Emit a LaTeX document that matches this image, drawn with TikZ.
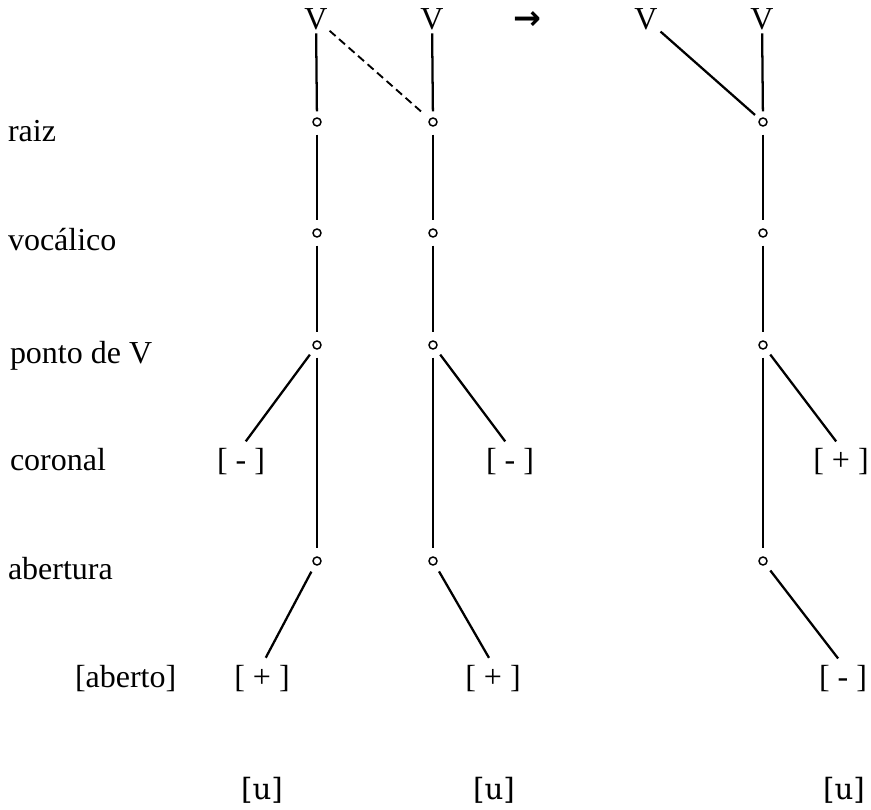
\documentclass[tikz,border=0pt]{standalone}
\usepackage{fontspec}
\setmainfont{Liberation Serif}
\newfontfamily\ipafont{DejaVu Serif}
\newfontfamily\arrowfont{DejaVu Sans}
\begin{document}
\begin{tikzpicture}[x=0.75pt,y=-0.75pt,
  every node/.style={inner sep=0pt, outer sep=0pt, font=\fontsize{24}{28}\selectfont},
  lbl/.style={anchor=base west},
  seg/.style={anchor=base},
  ipa/.style={anchor=base, font=\fontsize{22}{26}\selectfont\ipafont},
  knot/.style={circle, draw, line width=1.1pt, minimum size=6pt},
  ln/.style={line width=1.7pt},
  vtop/.style={ln, shorten <=3pt, shorten >=5pt},
  vmid/.style={ln, shorten <=6.5pt, shorten >=6.5pt},
  branch/.style={ln, shorten <=6pt, shorten >=6pt},
  spread/.style={line width=1.4pt, dash pattern=on 6pt off 3.5pt, shorten <=2pt, shorten >=7pt}]
\useasboundingbox (0,0) rectangle (871,810);

% tier labels
\node[lbl] (Lraiz) at (8,141) {raiz};
\node[lbl] (Lvoc) at (8,250) {vocálico};
\node[lbl] (Lponto) at (10,363) {ponto de V};
\node[lbl] (Lcor) at (10,470) {coronal};
\node[lbl] (Labert) at (8,579) {abertura};
\node[lbl] (Laberto) at (75,687) {[aberto]};

% timing slots and the arrow
\node[seg] (V1) at (316,29) {V};
\node[seg] (V2) at (432,29) {V};
\node[anchor=base, font=\fontsize{25}{28}\selectfont\arrowfont\bfseries] (arr) at (527,29) {→};
\node[seg] (V3) at (646,29) {V};
\node[seg] (V4) at (762,29) {V};

% class nodes
\foreach \c/\x in {1/317,2/433,3/763}{
  \node[knot] (r\c) at (\x,122) {};
  \node[knot] (v\c) at (\x,233) {};
  \node[knot] (p\c) at (\x,345) {};
  \node[knot] (b\c) at (\x,561) {};
}

% feature values
\node[seg] (c1) at (241,470) {[ - ]};
\node[seg] (c2) at (510,470) {[ - ]};
\node[seg] (c3) at (841,470) {[ + ]};
\node[seg] (a1) at (262,687) {[ + ]};
\node[seg] (a2) at (493,687) {[ + ]};
\node[seg] (a3) at (843,687) {[ - ]};

% resulting vowels
\node[ipa] (u1) at (262,799) {[u]};
\node[ipa] (u2) at (494,799) {[u]};
\node[ipa] (u3) at (844,799) {[u]};

% vertical spines
\draw[vtop] (V1) -- (r1);
\draw[vtop] (V2) -- (r2);
\draw[vtop] (V4) -- (r3);
\foreach \c in {1,2,3}{
  \draw[vmid] (r\c) -- (v\c);
  \draw[vmid] (v\c) -- (p\c);
  \draw[vmid] (p\c) -- (b\c);
}

% spreading and fusion of the root
\draw[spread] (V1) -- (r2);
\draw[ln, shorten <=3pt, shorten >=5pt] (V3) -- (r3);

% feature branches
\draw[branch] (p1) -- (c1.north);
\draw[branch] (p2) -- (c2.north);
\draw[branch] (p3) -- (c3.north);
\draw[branch] (b1) -- (a1.north);
\draw[branch] (b2) -- (a2.north);
\draw[branch] (b3) -- (a3.north);
\end{tikzpicture}
\end{document}
